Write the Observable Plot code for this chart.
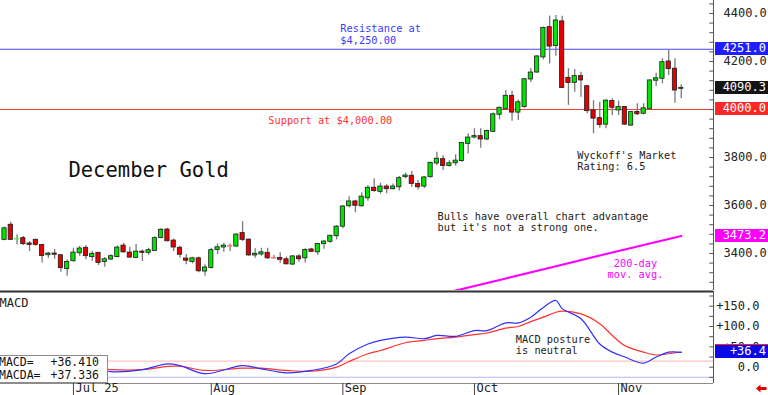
<!DOCTYPE html>
<html><head><meta charset="utf-8">
<script src="https://cdn.jsdelivr.net/npm/d3@7"></script>
<script src="https://cdn.jsdelivr.net/npm/@observablehq/plot@0.6"></script>
<style>
body{margin:0;background:#fff;}
#wrap{position:relative;width:768px;height:395px;overflow:hidden;background:#fff;font-family:"DejaVu Sans Mono",monospace;}
#wrap svg{display:block;}
.badge{position:absolute;left:715px;width:53px;height:13px;line-height:13px;font-size:12px;color:#fff;text-align:right;padding-right:2px;box-sizing:border-box;white-space:pre;}
#mbox{position:absolute;left:-1px;top:355px;width:109px;height:28px;background:#fff;border:1px solid #8c8c8c;box-sizing:border-box;font-size:11.5px;line-height:13px;color:#111;}
#mbox div{position:relative;height:13px;white-space:pre;}
#mbox span.v{position:absolute;right:8px;}
#mbox span.k{position:absolute;left:-1px;}
#arrow{position:absolute;left:756px;top:384px;}
</style></head><body><div id="wrap"></div>
<script>
// ---- Price candles (December Gold), one per trading day ----
const openP = [3457,3520,3460,3464,3442,3457,3436,3393,3400,3393,
3336,3368,3401,3424,3385,3403,3365,3375,3385,3433,
3404,3382,3408,3403,3411,3465,3500,3454,3424,3379,
3365,3380,3325,3340,3415,3425,3434,3429,3485,3458,
3392,3396,3403,3384,3382,3376,3354,3388,3380,3417,
3405,3439,3449,3472,3512,3597,3617,3597,3630,3674,
3657,3679,3668,3676,3718,3724,3690,3679,3718,3775,
3793,3765,3776,3785,3857,3883,3889,3875,3907,3978,
4001,4057,3987,4010,4125,4154,4217,4343,4264,4367,
4132,4111,4139,4097,3996,3964,3937,4035,3996,4010,
3933,3990,3982,4001,4120,4128,4200,4170,4086];
const highP = [3510,3530,3478,3471,3450,3461,3437,3405,3417,3394,
3374,3422,3430,3433,3410,3404,3383,3395,3430,3443,
3426,3438,3415,3422,3470,3503,3505,3461,3430,3396,
3385,3386,3353,3422,3440,3443,3439,3482,3533,3461,
3420,3422,3422,3392,3403,3385,3392,3395,3420,3422,
3443,3454,3476,3517,3600,3637,3621,3653,3683,3711,
3693,3686,3690,3721,3735,3742,3704,3721,3780,3822,
3807,3787,3811,3862,3899,3920,3920,3915,3985,4010,
4079,4076,4040,4129,4171,4225,4343,4389,4392,4388,
4170,4167,4155,4100,4037,4030,4040,4045,4035,4012,
3992,4024,4024,4124,4151,4211,4248,4211,4103];
const lowP = [3453,3454,3436,3433,3408,3430,3361,3380,3376,3322,
3305,3364,3389,3374,3368,3350,3343,3371,3382,3401,
3380,3378,3367,3392,3408,3462,3449,3408,3380,3353,
3357,3320,3305,3336,3396,3405,3408,3426,3450,3389,
3380,3389,3375,3378,3360,3353,3350,3364,3361,3404,
3392,3418,3443,3457,3503,3590,3570,3593,3618,3655,
3647,3649,3665,3660,3711,3676,3665,3671,3714,3767,
3746,3760,3764,3780,3815,3878,3839,3871,3904,3957,
3999,3951,3954,4005,4112,4151,4207,4190,4222,4087,
4017,4072,4051,3982,3899,3922,3920,3975,3975,3933,
3930,3975,3978,3999,4096,4107,4142,4026,4045];
const closeP = [3505,3457,3462,3439,3436,3436,3390,3400,3395,3339,
3365,3404,3421,3389,3399,3361,3376,3389,3425,3405,
3383,3408,3403,3414,3464,3499,3451,3425,3395,3370,
3380,3326,3342,3414,3426,3433,3432,3479,3457,3392,
3399,3405,3380,3382,3374,3355,3388,3376,3415,3407,
3440,3450,3474,3512,3596,3617,3599,3637,3674,3660,
3679,3668,3679,3714,3725,3690,3676,3717,3778,3795,
3765,3776,3787,3860,3883,3889,3875,3910,3980,4007,
4057,3987,4030,4126,4154,4221,4340,4262,4371,4090,
4110,4139,4121,3993,3962,3935,4037,4007,4010,3937,
3989,3980,4005,4121,4130,4197,4168,4079,4090.3];

// 200-day moving average (read at a few candles)
const maIdx = [66, 72, 80, 88, 96, 104, 108];
const maVal = [3209, 3246, 3296, 3347, 3398, 3448, 3473.2];

// levels
const resistance = 4251;
const support = 4000;

// MACD (blue) and MACDA signal (red)
const macdIdx = [0,7,12,17,22,26,28,32,38,41,45,49,53,55,58,60,64,67,69,72,75,77,80,82,84,86,88,89,92,95,97,99,102,104,106,108];
const macdVal = [2,24,7,-11,-6,8,4,-16,4,-4,-14,-8,8,33,57,66,74,70,78,76,90,90,109,109,123,147,164,144,119,57,37,25,10,25,37,36.41];
const signalVal = [4,11,2,-6,-6,2,2.5,-8,-2.5,-2.5,-8,-10,0,14,33,41,60,66,70,74,80,84,96,100,112,123,135,138,131,107,78,53,37,30,33,37.336];
const macdRefHigh = 15;
const macdRefLow = -25;

// axis ticks and labels
const priceTicks = [3400, 3600, 3800, 4000, 4200, 4400];
const macdTicks = [0, 50, 100, 150];
const dateIdx = [11, 33, 54, 75, 98];
const dateLabels = ["Jul 25", "Aug", "Sep", "Oct", "Nov"];

// texts
const titleText = "December Gold";
const resistanceText = "Resistance at\n$4,250.00";
const supportText = "Support at $4,000.00";
const ratingText = "Wyckoff's Market\nRating: 6.5";
const bullsText = "Bulls have overall chart advantage\nbut it's not a strong one.";
const maText = "200-day\nmov. avg.";
const macdTitle = "MACD";
const macdNote = "MACD posture\nis neutral";

// ---------------------------------------------------
const FONT = "DejaVu Sans Mono";
const xMin = -0.64, xMax = 113.15;
const candles = openP.map((o, i) => ({i, o, h: highP[i], l: lowP[i], c: closeP[i]}));
const bodies = candles.filter(d => Math.abs(d.c - d.o) > 3);
const dojis = candles.filter(d => Math.abs(d.c - d.o) <= 3);
const ma = maIdx.map((i, k) => ({i, v: maVal[k]}));
const macd = macdIdx.map((i, k) => ({i, m: macdVal[k], s: signalVal[k]}));
const minorMain = d3.range(3280, 4460, 40);
const minorMacd = d3.range(-25, 186, 25);

const main = Plot.plot({
  width: 768, height: 290,
  marginLeft: 0, marginRight: 55, marginTop: 0, marginBottom: 0,
  x: {domain: [xMin, xMax], axis: null},
  y: {domain: [3246, 4454], axis: null},
  color: {type: "identity"},
  style: {fontFamily: FONT, fontSize: "12px", background: "transparent", overflow: "visible"},
  marks: [
    Plot.ruleY([resistance], {stroke: "#4646ff", strokeWidth: 1.2}),
    Plot.ruleY([support], {stroke: "#ff3c3c", strokeWidth: 1.2}),
    Plot.line(ma, {x: "i", y: "v", stroke: "#ff00ff", strokeWidth: 2.2, clip: true}),
    Plot.ruleX(candles, {x: "i", y1: "l", y2: "h", stroke: "#7a7a7a", strokeWidth: 1.3}),
    Plot.rect(bodies, {x1: d => d.i - 0.34, x2: d => d.i + 0.34, y1: "o", y2: "c",
      fill: d => d.c >= d.o ? "#00e400" : "#e40000", stroke: "#1c1c1c", strokeWidth: 0.8}),
    Plot.ruleY(dojis, {y: "c", x1: d => d.i - 0.4, x2: d => d.i + 0.4,
      stroke: d => d.c >= d.o ? "#5ae65a" : "#ff7474", strokeWidth: 1.6}),
    Plot.ruleX([xMax], {stroke: "#555"}),
    Plot.ruleY(minorMain, {y: d => d, x1: xMax - 0.6, x2: xMax, stroke: "#555"}),
    Plot.text(priceTicks, {y: d => d, text: d => d.toFixed(1), frameAnchor: "right", dx: 10,
      textAnchor: "start", fontSize: 12, fill: "#222"}),
    Plot.text([resistanceText], {x: 53.6, y: 4312, text: d => d, textAnchor: "start",
      lineAnchor: "middle", lineHeight: 1.17, fontSize: 10.3, fill: "#3a3aff"}),
    Plot.text([supportText], {x: 42.1, y: 3954, text: d => d, textAnchor: "start",
      fontSize: 10.3, fill: "#ff3434"}),
    Plot.text([titleText], {x: 10.2, y: 3746, text: d => d, textAnchor: "start",
      fontSize: 20.5, fill: "#111"}),
    Plot.text([ratingText], {x: 91.4, y: 3785, text: d => d, textAnchor: "start",
      lineAnchor: "middle", lineHeight: 1.08, fontSize: 10.3, fill: "#222"}),
    Plot.text([bullsText], {x: 69.1, y: 3531, text: d => d, textAnchor: "start",
      lineAnchor: "middle", lineHeight: 1.1, fontSize: 10.3, fill: "#222"}),
    Plot.text([maText], {x: 100.7, y: 3337, text: d => d, textAnchor: "middle",
      lineAnchor: "middle", lineHeight: 1.12, fontSize: 10.3, fill: "#ff00ff"})
  ]
});

const macdPlot = Plot.plot({
  width: 768, height: 105,
  marginLeft: 0, marginRight: 55, marginTop: 1, marginBottom: 12,
  x: {domain: [xMin, xMax], axis: null, label: null},
  y: {domain: [-40.1, 186.1], axis: null, label: null},
  style: {fontFamily: FONT, fontSize: "12px", background: "transparent", overflow: "visible"},
  marks: [
    Plot.ruleY([macdRefHigh], {stroke: "#ffc4c4", strokeWidth: 1.2}),
    Plot.ruleY([macdRefLow], {stroke: "#c4c4ff", strokeWidth: 1.2}),
    Plot.line(macd, {x: "i", y: "s", stroke: "#ff3030", strokeWidth: 1.2, curve: "catmull-rom"}),
    Plot.line(macd, {x: "i", y: "m", stroke: "#3030ff", strokeWidth: 1.2, curve: "catmull-rom"}),
    Plot.ruleY([186.1], {stroke: "#333", strokeWidth: 2}),
    Plot.ruleY([-40.1], {stroke: "#8c8c8c", strokeWidth: 1.2}),
    Plot.ruleX([xMax], {stroke: "#555"}),
    Plot.ruleY(minorMacd, {y: d => d, x1: xMax - 0.6, x2: xMax, stroke: "#555"}),
    Plot.text(macdTicks, {y: d => d, text: d => d === 0 ? "0.0" : "+" + d.toFixed(1),
      frameAnchor: "right", dx: 46, textAnchor: "end", fontSize: 12, fill: "#222"}),
    Plot.axisX({ticks: dateIdx, tickSize: 12, tickFormat: () => "", label: null, stroke: "#444"}),
    Plot.text(dateLabels, {x: (d, i) => dateIdx[i], frameAnchor: "bottom", dy: 8.5, dx: 2,
      textAnchor: "start", fontSize: 12, fill: "#222"}),
    Plot.text([macdTitle], {frameAnchor: "top-left", text: d => d, dy: 7, dx: -1,
      textAnchor: "start", fontSize: 12, fill: "#222"}),
    Plot.text([macdNote], {x: 81.6, y: 54.6, text: d => d, textAnchor: "start",
      lineAnchor: "middle", lineHeight: 1.1, fontSize: 10.3, fill: "#222"})
  ]
});

const wrap = document.getElementById("wrap");
wrap.appendChild(main);
wrap.appendChild(macdPlot);

function applier(plot, name) {
  const s = plot.scale(name);
  if (s && typeof s.apply === "function") return v => s.apply(v);
  const lin = d3.scaleLinear(s.domain, s.range);
  return v => lin(v);
}
const yMain = applier(main, "y");
const yMacd = applier(macdPlot, "y");

function badge(top, text, bg) {
  const b = document.createElement("div");
  b.className = "badge";
  b.style.top = (top - 6.5) + "px";
  b.style.background = bg;
  b.textContent = text;
  wrap.appendChild(b);
}
const lastClose = closeP[closeP.length - 1];
const lastMa = maVal[maVal.length - 1];
badge(yMain(support), support.toFixed(1), "#ff2828");
badge(yMain(lastMa), lastMa.toFixed(1), "#ff00ff");
badge(yMain(lastClose), lastClose.toFixed(1), "#141414");
badge(yMain(resistance), resistance.toFixed(1), "#1e1eff");
const lastSig = signalVal[signalVal.length - 1];
const lastMacd = macdVal[macdVal.length - 1];
badge(290 + yMacd(lastSig) - 1.5, "", "#ff2020");
badge(290 + yMacd(lastMacd), "+" + lastMacd.toFixed(1), "#0a0ae6");

const box = document.createElement("div");
box.id = "mbox";
box.innerHTML = '<div><span class="k">MACD=</span><span class="v">+' + lastMacd.toFixed(3) +
  '</span></div><div><span class="k">MACDA=</span><span class="v">+' + lastSig.toFixed(3) + '</span></div>';
wrap.appendChild(box);

// small red scroll arrow at the bottom right
const arrow = d3.select(wrap).append("svg").attr("id", "arrow").attr("width", 11).attr("height", 9);
arrow.append("path").attr("d", "M0,4.5 L4.5,0.5 L4.5,3 L10.5,3 L10.5,6 L4.5,6 L4.5,8.5 Z").attr("fill", "#e00000");
</script>
</body></html>
